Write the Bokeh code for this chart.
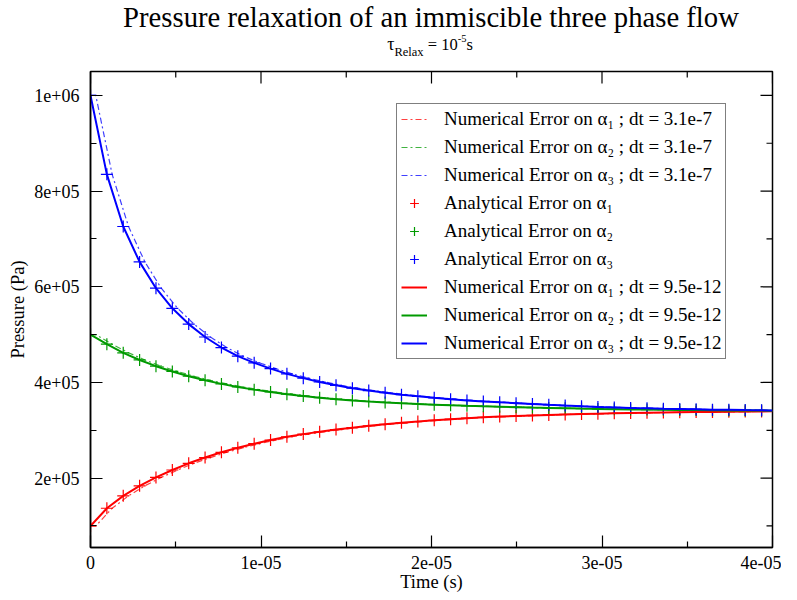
import math
from bokeh.plotting import figure
from bokeh.layouts import column
from bokeh.models import (Range1d, FixedTicker, CustomJSTickFormatter,
                          Legend, LegendItem, Div)
from bokeh.embed import file_html
from bokeh.resources import INLINE

# ---- data (pressure in units of 1e3 Pa, time in microseconds) ----
time_us = [0, 0.96, 1.92, 2.88, 3.84, 4.80, 5.76, 6.72, 7.68, 8.64, 9.60, 10.56,
           11.52, 12.48, 13.44, 14.40, 15.36, 16.32, 17.28, 18.24, 19.20, 20.16,
           21.12, 22.08, 23.04, 24.00, 24.96, 25.92, 26.88, 27.84, 28.80, 29.76,
           30.72, 31.68, 32.64, 33.60, 34.56, 35.52, 36.48, 37.44, 38.40, 39.36]

p1_ana = [100, 137, 163, 184, 201.5, 217, 231, 243, 254, 263.5, 272, 279.5,
          286.5, 292, 297, 301.5, 305.5, 309.3, 312.6, 315.6, 318.4, 320.9, 323.2,
          325.3, 327.1, 328.6, 329.8, 331.0, 332.1, 333.1, 334.0, 334.8, 335.5,
          336.1, 336.7, 337.2, 337.7, 338.1, 338.5, 338.9, 339.2, 339.5]
p2_ana = [500, 480, 462, 447, 434, 423, 413, 404.5, 397, 390.5, 385, 380,
          375.5, 371.5, 368, 365, 362.5, 360.2, 358.2, 356.5, 355, 353.6, 352.3,
          351.2, 350.2, 349.3, 348.4, 347.5, 346.7, 346.0, 345.3, 344.7, 344.2,
          343.7, 343.3, 342.9, 342.5, 342.2, 341.9, 341.6, 341.4, 341.2]
p3_ana = [1000, 835, 726, 652, 597, 555, 522, 495, 473, 455, 441, 429,
          418, 409, 401, 394, 388, 383, 378.5, 374.5, 371, 367.8, 365, 362.5,
          360.3, 358.4, 356.7, 355.0, 353.2, 351.6, 350.2, 348.9, 347.8, 346.8,
          346.0, 345.2, 344.5, 343.8, 343.2, 342.7, 342.2, 341.8]

# fine time step numerical solution (coincides with analytical), up to t = 40 us
time_fine_us = time_us + [40.0]
p1_fine = p1_ana + [339.7]
p2_fine = p2_ana + [341.1]
p3_fine = p3_ana + [341.5]

# coarse time step numerical solution (dt = 3.1e-7, lags by one step)
time_coarse_us = [0, 0.31, 1.27, 2.23, 3.19, 4.15, 5.11, 6.07, 7.03, 7.99, 8.95,
                  9.91, 10.87, 11.83, 12.79, 13.75, 14.71, 15.67, 16.63, 17.59,
                  18.55, 19.51, 20.47, 21.43, 22.39, 23.35, 24.31, 25.27, 26.23,
                  27.19, 28.15, 29.11, 30.07, 31.03, 31.99, 32.95, 33.91, 34.87,
                  35.83, 36.79, 37.75, 38.71, 39.67]
p1_coarse = [100] + p1_ana
p2_coarse = [500] + p2_ana
p3_coarse = [1000] + p3_ana

x_major = [0, 1e-5, 2e-5, 3e-5, 4e-5]
x_minor = [5e-6, 1.5e-5, 2.5e-5, 3.5e-5]
y_major = [2e5, 4e5, 6e5, 8e5, 1e6]
y_minor = [1e5, 3e5, 5e5, 7e5, 9e5]

labels_coarse = ["Numerical Error on \u03b1\u2081 ; dt = 3.1e-7",
                 "Numerical Error on \u03b1\u2082 ; dt = 3.1e-7",
                 "Numerical Error on \u03b1\u2083 ; dt = 3.1e-7"]
labels_ana = ["Analytical Error on \u03b1\u2081",
              "Analytical Error on \u03b1\u2082",
              "Analytical Error on \u03b1\u2083"]
labels_fine = ["Numerical Error on \u03b1\u2081 ; dt = 9.5e-12",
               "Numerical Error on \u03b1\u2082 ; dt = 9.5e-12",
               "Numerical Error on \u03b1\u2083 ; dt = 9.5e-12"]

title_text = "Pressure relaxation of an immiscible three phase flow"

colors = ["#ff0000", "#009a00", "#0000ff"]
FONT = "Liberation Serif"

def sec(ts):
    return [t * 1e-6 for t in ts]

def pa(vs):
    return [v * 1e3 for v in vs]

header = Div(width=781, height=63, styles={"margin": "0", "padding": "0"}, text=(
    "<div style=\"position:relative;width:781px;height:63px;"
    "font-family:'Liberation Serif',serif;color:#000;\">"
    "<div style=\"position:absolute;left:431px;top:4.5px;transform:translateX(-50%);"
    "white-space:nowrap;font-size:28.7px;line-height:24px;\">" + title_text + "</div>"
    "<div style=\"position:absolute;left:430px;top:33.6px;transform:translateX(-50%);"
    "white-space:nowrap;font-size:16.5px;line-height:20px;\">"
    "<span style=\"font-size:18px;\">\u03c4</span>"
    "<span style=\"font-size:12.5px;position:relative;top:6px;\">Relax</span>"
    " = 10<span style=\"font-size:10.5px;position:relative;top:-7.5px;\">-5</span>s"
    "</div></div>"))

xr = Range1d(0, 4e-5)
yr = Range1d(5.5e4, 1.05e6)
p = figure(frame_width=682, frame_height=476, output_backend="svg",
           toolbar_location=None, x_range=xr, y_range=yr,
           min_border_left=90, min_border_right=9, min_border_top=8,
           min_border_bottom=45)
p.grid.visible = False
p.outline_line_color = "black"
p.outline_line_width = 1.5
p.background_fill_color = "white"
p.border_fill_color = "white"

fmt = CustomJSTickFormatter(code="""
if (tick == 0) { return "0"; }
var s = tick.toExponential(0);
return s.replace(/e([+-])(\\d)$/, function(m, a, b) { return "e" + a + "0" + b; });
""")

for ax in p.xaxis + p.yaxis:
    ax.major_tick_in = 12
    ax.major_tick_out = 0
    ax.minor_tick_in = 6
    ax.minor_tick_out = 0
    ax.axis_line_color = "black"
    ax.axis_line_width = 1.5
    ax.major_tick_line_color = "black"
    ax.minor_tick_line_color = "black"
    ax.major_tick_line_width = 1.2
    ax.minor_tick_line_width = 1.2
    ax.major_label_text_font = FONT
    ax.major_label_text_font_size = "18px"
    ax.major_label_text_color = "black"
    ax.axis_label_text_font = FONT
    ax.axis_label_text_font_size = "18.5px"
    ax.axis_label_text_font_style = "normal"
    ax.axis_label_text_color = "black"
    ax.formatter = fmt

p.xaxis.ticker = FixedTicker(ticks=x_major, minor_ticks=x_minor)
p.yaxis.ticker = FixedTicker(ticks=y_major, minor_ticks=y_minor)
p.xaxis.axis_label = "Time (s)"
p.yaxis.axis_label = "Pressure (Pa)"
p.xaxis.major_label_standoff = 8
p.xaxis.axis_label_standoff = 0
p.yaxis.major_label_standoff = 11
p.yaxis.axis_label_standoff = 3

# inward ticks on the top and right edges (half of each dash is clipped by the frame)
p.scatter(x_major, [yr.end] * len(x_major), marker="dash", size=24,
          angle=math.pi / 2, line_color="black", line_width=1.2)
p.scatter(x_minor, [yr.end] * len(x_minor), marker="dash", size=12,
          angle=math.pi / 2, line_color="black", line_width=1.2)
p.scatter([xr.end] * len(y_major), y_major, marker="dash", size=24,
          line_color="black", line_width=1.2)
p.scatter([xr.end] * len(y_minor), y_minor, marker="dash", size=12,
          line_color="black", line_width=1.2)

r_coarse = []
for i in range(3):
    vals = pa([p1_coarse, p2_coarse, p3_coarse][i])
    r = p.line(sec(time_coarse_us), vals, line_color=colors[i], line_width=1.2,
               line_dash="6 3 2 3", line_alpha=0.75)
    r_coarse.append(r)
r_ana = []
for i in range(3):
    vals = pa([p1_ana, p2_ana, p3_ana][i])
    r = p.scatter(sec(time_us), vals, marker="cross", size=12,
                  line_color=colors[i], line_width=1.2)
    r_ana.append(r)
r_fine = []
for i in range(3):
    vals = pa([p1_fine, p2_fine, p3_fine][i])
    r = p.line(sec(time_fine_us), vals, line_color=colors[i], line_width=2)
    r_fine.append(r)

items = []
for i in range(3):
    items.append(LegendItem(label=labels_coarse[i], renderers=[r_coarse[i]]))
for i in range(3):
    items.append(LegendItem(label=labels_ana[i], renderers=[r_ana[i]]))
for i in range(3):
    items.append(LegendItem(label=labels_fine[i], renderers=[r_fine[i]]))

legend = Legend(items=items, location=(306, 188))
legend.border_line_color = "black"
legend.border_line_width = 1
legend.background_fill_color = "white"
legend.background_fill_alpha = 1.0
legend.label_text_font = FONT
legend.label_text_font_size = "19px"
legend.label_text_color = "black"
legend.glyph_width = 26
legend.glyph_height = 22
legend.label_height = 22
legend.spacing = 6
legend.padding = 4
legend.margin = 0
legend.label_standoff = 17
p.add_layout(legend, "center")

layout = column(header, p, spacing=0)
open("out.html", "w").write(file_html(layout, INLINE))
